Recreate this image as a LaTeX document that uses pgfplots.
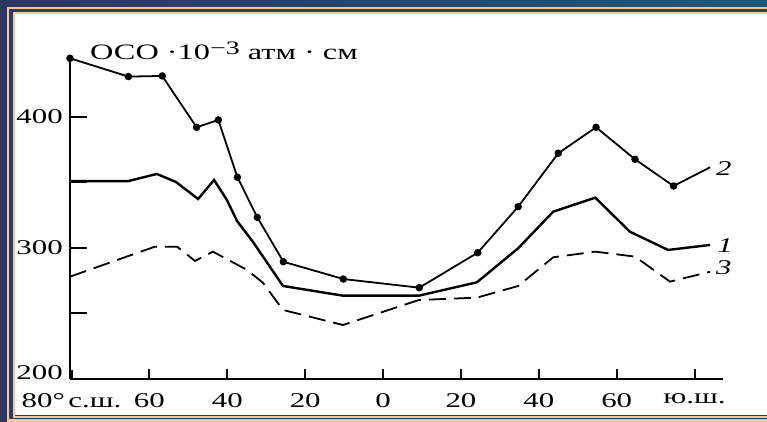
\documentclass[border=0pt]{standalone}
\usepackage{fontspec}
\setmainfont{Liberation Serif}[FakeStretch=1.47]
\usepackage{pgfplots}
\pgfplotsset{compat=1.18}
\definecolor{bgnavy}{HTML}{2E3663}
\definecolor{bgteal}{HTML}{1C587A}
\definecolor{framenavy}{HTML}{2C3A66}
\definecolor{peach}{HTML}{F8C898}
\pgfplotsset{base/.style={
  at={(70bp,43bp)}, anchor=south west, scale only axis,
  width=653bp, height=321bp,
  xmin=-80.4, xmax=87.3, ymin=200, ymax=445,
  axis line style={-, line width=2.3bp, black}}}
\begin{document}
\fontsize{21bp}{25bp}\selectfont
\begin{tikzpicture}
\useasboundingbox (0bp,0bp) rectangle (767bp,422bp);
\clip (0bp,0bp) rectangle (767bp,422bp);
\shade[left color=bgnavy, right color=bgteal] (0bp,0bp) rectangle (767bp,422bp);
\fill[framenavy] (8bp,1.5bp) rectangle (800bp,414bp);
\draw[peach, line width=2bp] (8bp,1.5bp) rectangle (800bp,414bp);
\draw[peach, line width=2bp] (13.5bp,5bp) rectangle (800bp,408.5bp);
\fill[white] (14.5bp,6.5bp) rectangle (800bp,407.5bp);
% x axis
\begin{axis}[base,
  axis y line=none, axis x line*=bottom,
  xtick align=inside, major tick length=9bp,
  xtick style={draw=black, line width=2bp},
  xtick={-80,-60,-40,-20,0,20,40,60,80},
  xticklabels={80°\,с.ш., 60, 40, 20, 0, 20, 40, 60, ю.ш.},
  xticklabel style={yshift=-7bp},
  clip=false,
]
\end{axis}
% y axis with long inside ticks
\begin{axis}[base,
  axis x line=none, axis y line*=left,
  ytick align=inside, major tick length=17bp,
  ytick style={draw=black, line width=2bp},
  ytick={250,300,350,400}, yticklabels={,300,,400},
  extra y ticks={200}, extra y tick labels={200},
  extra y tick style={yticklabel style={yshift=6bp}},
]
\end{axis}
% data
\begin{axis}[base, hide axis, clip=false]
\addplot[black, line width=1.8bp, mark=*, mark size=2.8bp,
  mark indices={1,2,3,4,5,6,7,8,9,10,11,12,13,14,15,16}] coordinates {
(-80.4,444.8) (-65.4,430.8) (-56.7,431.3) (-47.9,392.1) (-42.3,397.7) (-37.4,354.0)
(-32.3,323.4) (-25.6,289.5) (-10.2,276.3) (9.3,269.7) (24.3,296.4) (34.7,331.5)
(45.0,372.3) (54.7,392.1) (64.7,367.7) (74.6,347.3) (84.0,361.6)};
\addplot[black, line width=2.4bp, mark=none] coordinates {
(-80.4,351.1) (-65.5,351.0) (-58.1,356.5) (-53.2,350.4) (-47.5,337.4) (-43.4,351.9)
(-40.1,336.6) (-37.5,320.6) (-33.4,304.6) (-25.7,271.0) (-10.3,263.6) (9.2,263.6)
(24.1,273.8) (34.7,299.8) (43.7,327.7) (54.5,338.4) (63.4,312.4) (73.2,298.5) (84.0,302.3)};
\addplot[black, line width=1.8bp, mark=none, dash pattern=on 17bp off 8bp] coordinates {
(-80.4,278.1) (-58.6,301.0) (-52.9,301.0) (-48.3,290.1) (-43.7,297.2) (-34.9,283.2)
(-30.8,273.3) (-25.7,252.7) (-10.3,241.2) (9.2,260.3) (24.1,262.1) (34.7,271.0)
(43.7,292.9) (54.5,297.2) (64.7,293.4) (73.7,274.3) (84.0,281.9)};
\pgfplotsinvokeforeach{-60,-40,-20,0,20,40,60,80}{
  \draw[black, line width=2bp] (axis cs:#1,201) -- (axis cs:#1,208);
}
\node[anchor=west, font=\itshape, inner sep=0pt] at (axis cs:85.5,361) {2};
\node[anchor=west, font=\itshape, inner sep=0pt] at (axis cs:85.8,302) {1};
\node[anchor=west, font=\itshape, inner sep=0pt] at (axis cs:85.5,284.7) {3};
\end{axis}
\node[anchor=base west, inner sep=0pt, font=\fontsize{22bp}{25bp}\selectfont] at (90bp,362bp)
  {ОСО ·10\raisebox{0.55ex}{\fontsize{19bp}{20bp}\selectfont −3} атм · см};
\end{tikzpicture}
\end{document}
